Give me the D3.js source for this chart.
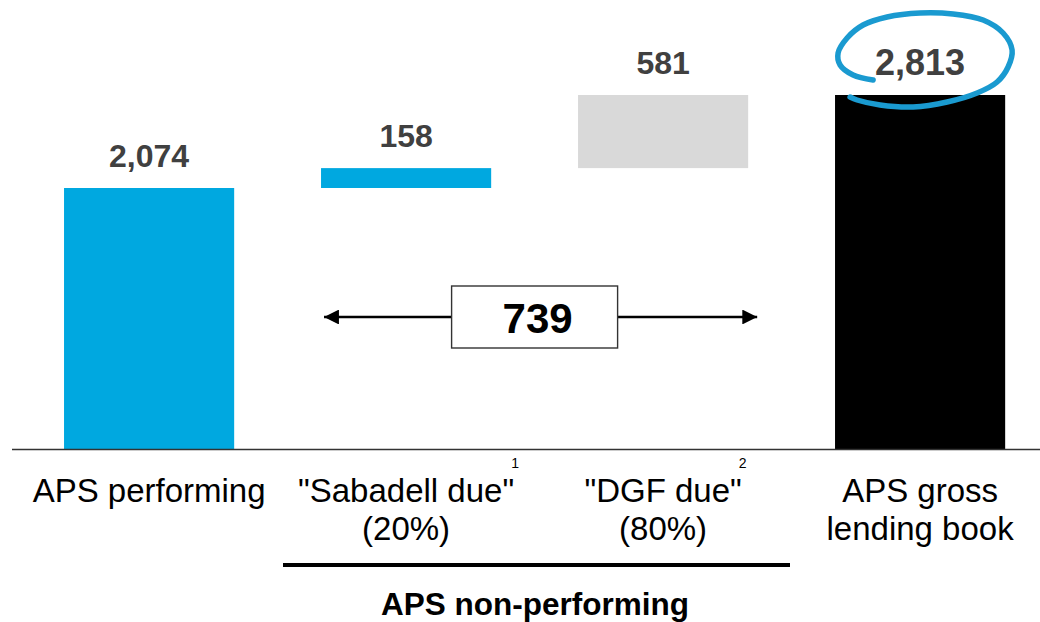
<!DOCTYPE html>
<html><head><meta charset="utf-8">
<script src="https://cdn.jsdelivr.net/npm/d3@7"></script>
<style>html,body{margin:0;padding:0;background:#fff;}svg{display:block;}</style>
</head><body>
<svg id="c" width="1040" height="622"></svg>
<script>
const categories = ["APS performing", "\"Sabadell due\"", "\"DGF due\"", "APS gross"];
const subLines = ["", "(20%)", "(80%)", "lending book"];
const footnotes = ["", "1", "2", ""];
const values = [2074, 158, 581, 2813];
const kinds = ["total", "delta", "delta", "total"];
const valueLabels = ["2,074", "158", "581", "2,813"];
const colors = ["#00a8e0", "#00a8e0", "#d9d9d9", "#000000"];
const bracketTotal = "739";
const groupLabel = "APS non-performing";

const svg = d3.select("#c");
const font = "Liberation Sans, Arial, sans-serif";

// cumulative starts
let run = 0;
const bars = values.map((v, i) => {
  let lo, hi;
  if (kinds[i] === "total") { lo = 0; hi = v; run = v; }
  else { lo = run; hi = run + v; run = hi; }
  return {i, lo, hi};
});

const x = d3.scaleBand().domain(d3.range(categories.length)).range([20.6, 1048.6])
  .paddingInner(0.338).paddingOuter(0.169);
const y = d3.scaleLinear().domain([0, d3.max(values)]).range([449, 95]);

svg.selectAll("rect.bar").data(bars).enter().append("rect")
  .attr("x", d => x(d.i)).attr("width", x.bandwidth())
  .attr("y", d => y(d.hi)).attr("height", d => y(d.lo) - y(d.hi))
  .attr("fill", d => colors[d.i]);

// baseline
svg.append("line").attr("x1", 12).attr("x2", 1040).attr("y1", y(0) + 0.5).attr("y2", y(0) + 0.5)
  .attr("stroke", "#333").attr("stroke-width", 1.6);

// value labels (final total highlighted larger)
const last = values.length - 1;
svg.selectAll("text.val").data(bars).enter().append("text")
  .attr("x", d => x(d.i) + x.bandwidth() / 2).attr("y", d => y(d.hi) - (d.i === last ? 20 : 21))
  .attr("text-anchor", "middle").attr("font-family", font).attr("font-weight", "bold")
  .attr("font-size", d => d.i === last ? 36 : 32).attr("fill", "#404040").text(d => valueLabels[d.i]);

// category labels
categories.forEach((c, i) => {
  const cx = x(i) + x.bandwidth() / 2;
  const t = svg.append("text").attr("x", cx).attr("y", 502).attr("text-anchor", "middle")
    .attr("font-family", font).attr("font-size", 33).attr("fill", "#000").text(c);
  if (subLines[i]) {
    svg.append("text").attr("x", cx).attr("y", 540).attr("text-anchor", "middle")
      .attr("font-family", font).attr("font-size", 33).attr("fill", "#000").text(subLines[i]);
  }
  if (footnotes[i]) {
    const bb = t.node().getBBox();
    svg.append("text").attr("x", bb.x + bb.width - 3).attr("y", 468)
      .attr("font-family", font).attr("font-size", 14).attr("fill", "#000").text(footnotes[i]);
  }
});

// arrow with box
const ay = 317;
const ax1 = x(1) + 3, ax2 = x(2) + x.bandwidth() + 9;
const defs = svg.append("defs");
defs.append("marker").attr("id", "ah").attr("viewBox", "0 0 10 10").attr("refX", 10).attr("refY", 5)
  .attr("markerWidth", 6.8).attr("markerHeight", 6.2).attr("markerUnits", "strokeWidth").attr("orient", "auto-start-reverse")
  .append("path").attr("d", "M0,0L10,5L0,10z").attr("fill", "#000");
svg.append("line").attr("x1", ax1).attr("x2", ax2).attr("y1", ay).attr("y2", ay)
  .attr("stroke", "#000").attr("stroke-width", 2.4)
  .attr("marker-start", "url(#ah)").attr("marker-end", "url(#ah)");
const bx = (ax1 + ax2) / 2 - 6;
svg.append("rect").attr("x", bx - 83).attr("y", 286).attr("width", 166).attr("height", 62)
  .attr("fill", "#fff").attr("stroke", "#333").attr("stroke-width", 1.4);
svg.append("text").attr("x", bx + 3).attr("y", 333).attr("text-anchor", "middle")
  .attr("font-family", font).attr("font-weight", "bold").attr("font-size", 42)
  .attr("fill", "#000").text(bracketTotal);

// group underline and label
svg.append("rect").attr("x", 283).attr("y", 563).attr("width", 507).attr("height", 4).attr("fill", "#000");
svg.append("text").attr("x", 535).attr("y", 615).attr("text-anchor", "middle")
  .attr("font-family", font).attr("font-weight", "bold").attr("font-size", 31.5)
  .attr("fill", "#000").text(groupLabel);

// hand-drawn loop around last label
const lx = x(3) + x.bandwidth() / 2, ly = y(values[3]) - 32;
const loop = [[-47,17],[-67,12],[-80,2],[-82,-10],[-73,-25],[-57,-38],[-33,-46],[0,-50],[33,-49],[63,-43],[83,-30],[92,-13],[88,4],[77,19],[57,30],[27,39],[-7,44],[-40,42],[-63,37],[-70,34]];
svg.append("path").attr("d", d3.line().curve(d3.curveCatmullRom.alpha(0.5))(loop.map(p => [lx + p[0], ly + p[1]])))
  .attr("fill", "none").attr("stroke", "#1a9ad0").attr("stroke-width", 5.5).attr("stroke-linecap", "round");
</script>
</body></html>
